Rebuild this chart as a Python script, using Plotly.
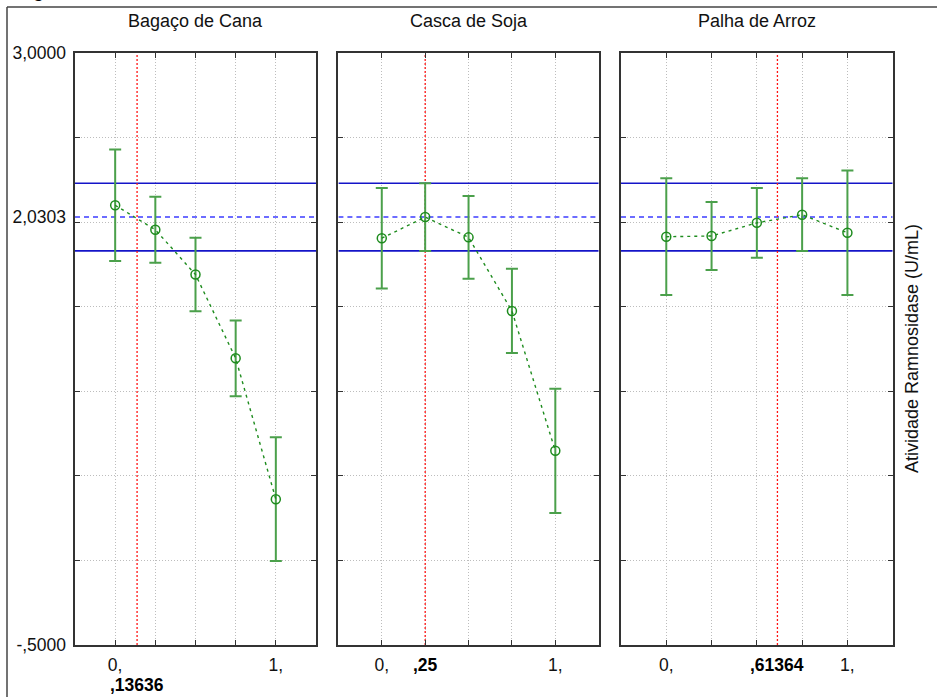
import plotly.graph_objects as go

# ---------------- data ----------------
factors = ["Bagaço de Cana", "Casca de Soja", "Palha de Arroz"]
levels = [0, 0.25, 0.5, 0.75, 1]
bagaco_mean = [2.100, 1.955, 1.690, 1.195, 0.362]
bagaco_err = [0.330, 0.195, 0.217, 0.224, 0.366]
soja_mean = [1.905, 2.030, 1.910, 1.475, 0.648]
soja_err = [0.297, 0.200, 0.245, 0.249, 0.367]
palha_mean = [1.914, 1.918, 1.996, 2.044, 1.937]
palha_err = [0.345, 0.201, 0.206, 0.215, 0.368]
optimum = [0.13636, 0.25, 0.61364]
optimum_labels = [",13636", ",25", ",61364"]
grand_mean = 2.0303
band_upper = 2.2303
band_lower = 1.8303
y_tick_vals = [-0.5, 2.0303, 3.0]
y_tick_text = ["-,5000", "2,0303", "3,0000"]
grid_vals = [-0.5, 0, 0.5, 1.0, 1.5, 2.0, 2.5, 3.0]
x_tick_text = ["0,", "", "", "", "1,"]

means = [bagaco_mean, soja_mean, palha_mean]
errs = [bagaco_err, soja_err, palha_err]

W, H = 937, 697
FONT = "Liberation Sans, Arial, sans-serif"
px_domains = [(75, 316), (338.4, 598.7), (621, 892.7)]
y_dom = [(H - 645) / H, (H - 53) / H]
XR = [-0.25, 1.25]
YR = [-0.5, 3.0]

GREEN = "rgb(30,140,30)"
ERRGREEN = "rgb(75,160,75)"
LINECOL = "#333333"
GRIDCOL = "#BDBDBD"

fig = go.Figure()

for i in range(3):
    xa = "x" if i == 0 else f"x{i+1}"
    ya = "y" if i == 0 else f"y{i+1}"
    for yv in (band_upper, band_lower):
        fig.add_trace(go.Scatter(x=XR, y=[yv, yv], mode="lines",
                                 line=dict(color="rgb(20,20,200)", width=1.6),
                                 xaxis=xa, yaxis=ya, showlegend=False, hoverinfo="skip"))
    fig.add_trace(go.Scatter(x=XR, y=[grand_mean, grand_mean], mode="lines",
                             line=dict(color="rgb(60,60,255)", width=1.6, dash="5px,4px"),
                             xaxis=xa, yaxis=ya, showlegend=False, hoverinfo="skip"))
    fig.add_trace(go.Scatter(x=[optimum[i], optimum[i]], y=YR, mode="lines",
                             line=dict(color="rgb(255,20,20)", width=1.3, dash="2px,2px"),
                             xaxis=xa, yaxis=ya, showlegend=False, hoverinfo="skip"))
    fig.add_trace(go.Scatter(x=levels, y=means[i], mode="lines+markers",
                             line=dict(color=GREEN, width=1.4, dash="3px,4px"),
                             marker=dict(symbol="circle-open", size=9, color=GREEN,
                                         line=dict(width=1.5, color=GREEN)),
                             error_y=dict(type="data", array=errs[i], visible=True,
                                          color=ERRGREEN, thickness=2, width=6),
                             xaxis=xa, yaxis=ya, showlegend=False))

axis_common_x = dict(range=XR, tickmode="array", tickvals=levels, ticktext=x_tick_text,
                     ticks="inside", ticklen=5, tickcolor=LINECOL, tickwidth=1,
                     showgrid=True, gridcolor=GRIDCOL, griddash="1px,2px", gridwidth=1,
                     showline=True, linecolor=LINECOL, linewidth=1.5, mirror="ticks",
                     zeroline=False, tickfont=dict(family=FONT, size=17.5, color="#111"),
                     ticklabelstandoff=3, automargin=False, fixedrange=True)
axis_common_y = dict(range=YR, tickmode="array", tickvals=grid_vals, showticklabels=False,
                     ticks="inside", ticklen=5, tickcolor=LINECOL, tickwidth=1,
                     showgrid=True, gridcolor=GRIDCOL, griddash="1px,2px", gridwidth=1,
                     showline=True, linecolor=LINECOL, linewidth=1.5, mirror="ticks",
                     zeroline=False, automargin=False, fixedrange=True, domain=y_dom)

layout = dict(width=W, height=H, margin=dict(l=0, r=0, t=0, b=0),
              paper_bgcolor="white", plot_bgcolor="white", showlegend=False,
              font=dict(family=FONT, color="#111"))
for i in range(3):
    xk = "xaxis" if i == 0 else f"xaxis{i+1}"
    yk = "yaxis" if i == 0 else f"yaxis{i+1}"
    xa_anchor = "y" if i == 0 else f"y{i+1}"
    ya_anchor = "x" if i == 0 else f"x{i+1}"
    d = px_domains[i]
    layout[xk] = dict(axis_common_x, domain=[d[0] / W, d[1] / W], anchor=xa_anchor)
    layout[yk] = dict(axis_common_y, anchor=ya_anchor)

layout["yaxis4"] = dict(range=YR, overlaying="y", anchor="x", side="left",
                        tickmode="array", tickvals=y_tick_vals, ticktext=y_tick_text,
                        ticks="", showgrid=False, showline=False, zeroline=False,
                        tickfont=dict(family=FONT, size=17.5, color="#111"),
                        ticklabelstandoff=8, automargin=False, fixedrange=True)

fig.update_layout(**layout)
fig.add_trace(go.Scatter(x=[0], y=[0], xaxis="x", yaxis="y4", mode="markers",
                         marker=dict(opacity=0), showlegend=False, hoverinfo="skip"))

annotations = []
for i in range(3):
    d = px_domains[i]
    annotations.append(dict(text=factors[i], x=(d[0] + d[1]) / 2 / W, y=1 - 21 / H,
                            xref="paper", yref="paper", showarrow=False,
                            xanchor="center", yanchor="middle",
                            font=dict(family=FONT, size=18, color="#111")))
    xa = "x" if i == 0 else f"x{i+1}"
    ypix = 685 if i == 0 else 665
    annotations.append(dict(text="<b>" + optimum_labels[i] + "</b>", x=optimum[i], y=(H - ypix) / H,
                            xref=xa, yref="paper", showarrow=False,
                            xanchor="center", yanchor="middle",
                            font=dict(family=FONT, size=17.5, color="black")))
annotations.append(dict(text="Atividade Ramnosidase (U/mL)", x=912 / W, y=(H - 349) / H,
                        xref="paper", yref="paper", showarrow=False, textangle=-90,
                        xanchor="center", yanchor="middle",
                        font=dict(family=FONT, size=18, color="#111")))
annotations.append(dict(text="<b>Figura</b>", x=16 / W, y=1 - 2 / H, xref="paper", yref="paper",
                        showarrow=False, xanchor="left", yanchor="bottom", borderpad=0,
                        font=dict(family=FONT, size=18, color="black")))
fig.update_layout(annotations=annotations)

fig.add_shape(type="line", xref="paper", yref="paper", x0=7 / W, x1=7 / W, y0=0, y1=1 - 7 / H,
              line=dict(color="#444444", width=1.5))
fig.add_shape(type="line", xref="paper", yref="paper", x0=7 / W, x1=1, y0=1 - 7 / H, y1=1 - 7 / H,
              line=dict(color="#444444", width=1.5))

fig.write_html("out.html", config={"displayModeBar": False},
               post_script="document.body.style.margin='0';document.body.style.overflow='hidden';")
